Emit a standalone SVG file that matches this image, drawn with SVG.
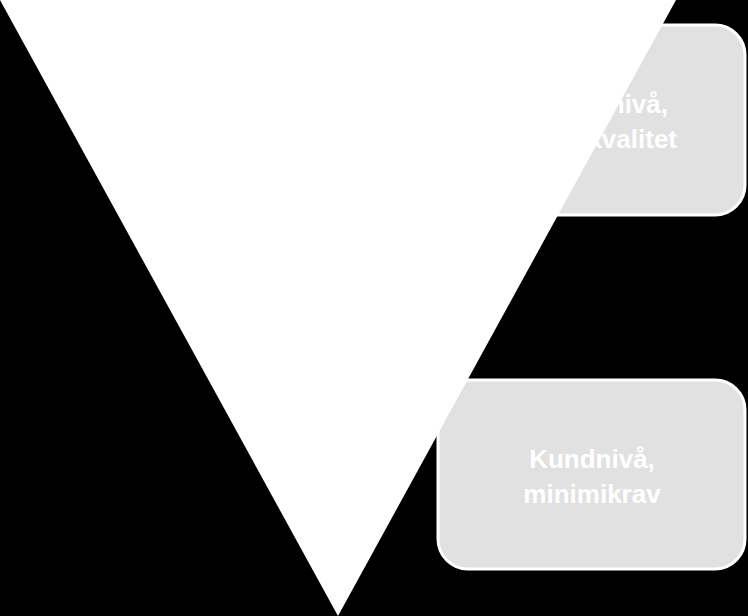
<svg xmlns="http://www.w3.org/2000/svg" width="748" height="616" viewBox="0 0 748 616">
  <style>
    .box { fill: #e1e1e1; stroke: #ffffff; stroke-width: 3; }
    .lbl { font-family: "Liberation Sans", Arial, sans-serif; font-weight: bold; font-size: 26px; fill: #ffffff; }
  </style>
  <rect x="0" y="0" width="748" height="616" fill="#000000"/>
  <g id="box-top">
    <rect class="box" x="438" y="25" width="307" height="190" rx="30" ry="30"/>
    <text class="lbl" x="668" y="113" text-anchor="end">nivå,</text>
    <text class="lbl" x="677" y="148" text-anchor="end">kvalitet</text>
  </g>
  <g id="box-bottom">
    <rect class="box" x="438" y="380" width="307" height="189" rx="30" ry="30"/>
    <text class="lbl" x="592" y="468" text-anchor="middle">Kundnivå,</text>
    <text class="lbl" x="592" y="503" text-anchor="middle">minimikrav</text>
  </g>
  <g id="triangle">
    <polygon points="0,0 676,0 338,616" fill="#ffffff"/>
  </g>
</svg>
